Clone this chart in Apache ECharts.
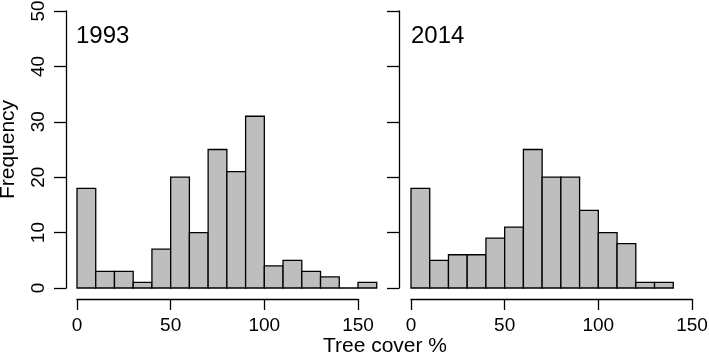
<!DOCTYPE html>
<html>
<head>
<meta charset="utf-8">
<script src="https://cdn.jsdelivr.net/npm/echarts@6/dist/echarts.min.js"></script>
<style>html,body{margin:0;padding:0;background:#fff}#c{width:709px;height:358px}</style>
</head>
<body>
<div id="c"></div>
<script>
// Data
const binWidth = 10;
const breaks1993 = [0,10,20,30,40,50,60,70,80,90,100,110,120,130,140,150];
const counts1993 = [18,3,3,1,7,20,10,25,21,31,4,5,3,2,0,1];
const breaks2014 = [0,10,20,30,40,50,60,70,80,90,100,110,120,130];
const counts2014 = [18,5,6,6,9,11,25,20,20,14,10,8,1,1];
const panelLabels = ['1993', '2014'];
const xTicks = [0, 50, 100, 150];
const yTicks = [0, 10, 20, 30, 40, 50];
const xTitle = 'Tree cover %';
const yTitle = 'Frequency';

const FONT = '"Liberation Sans", Arial, sans-serif';
const pxPerUnit = 281 / 150;
const yTop = 11, yBot = 288;

function histData(breaks, counts) {
  return breaks.map((b, i) => [b, b + binWidth, counts[i]]);
}

function renderBar(params, api) {
  const p0 = api.coord([api.value(0), 0]);
  const p1 = api.coord([api.value(1), api.value(2)]);
  return {
    type: 'rect',
    shape: { x: p0[0], y: p1[1], width: p1[0] - p0[0], height: p0[1] - p1[1] },
    style: { fill: '#bebebe', stroke: '#000', lineWidth: 1.3 }
  };
}

const chart = echarts.init(document.getElementById('c'), null, { renderer: 'canvas' });

const panels = [
  { left: 77, maxX: 160, yAxisX: 66, showLabels: true, breaks: breaks1993, counts: counts1993 },
  { left: 411, maxX: 140, yAxisX: 399, showLabels: false, breaks: breaks2014, counts: counts2014 }
];

const grid = [], xAxis = [], yAxis = [], series = [];
panels.forEach((p, i) => {
  // bars grid
  grid.push({ left: p.left, top: yTop, width: p.maxX * pxPerUnit, height: yBot - yTop, containLabel: false, outerBoundsMode: 'none' });
  xAxis.push({ gridIndex: grid.length - 1, type: 'value', min: 0, max: p.maxX, show: false });
  yAxis.push({
    gridIndex: grid.length - 1, type: 'value', min: 0, max: 50, interval: 10,
    offset: p.left - p.yAxisX,
    axisLine: { show: true, onZero: false, lineStyle: { color: '#000', width: 1.3 } },
    axisTick: { show: true, length: 12, inside: false, lineStyle: { color: '#000', width: 1.3 } },
    axisLabel: { show: p.showLabels, rotate: 90, margin: 18, fontSize: 19, fontFamily: FONT, color: '#000' },
    splitLine: { show: false },
    name: i === 0 ? yTitle : '', nameLocation: 'middle', nameGap: 47, nameRotate: 90,
    nameTextStyle: { fontSize: 21, fontFamily: FONT, color: '#000' }
  });
  series.push({
    type: 'custom', xAxisIndex: xAxis.length - 1, yAxisIndex: yAxis.length - 1,
    renderItem: renderBar, data: histData(p.breaks, p.counts), silent: true
  });
  // x-axis grid (0 to 150)
  grid.push({ left: p.left, top: yTop, width: 150 * pxPerUnit, height: 299 - yTop, containLabel: false, outerBoundsMode: 'none' });
  xAxis.push({
    gridIndex: grid.length - 1, type: 'value', min: 0, max: 150, interval: 50,
    axisLine: { show: true, onZero: false, lineStyle: { color: '#000', width: 1.3 } },
    axisTick: { show: true, length: 11, lineStyle: { color: '#000', width: 1.3 } },
    axisLabel: { margin: 17, fontSize: 19, fontFamily: FONT, color: '#000', showMinLabel: true, showMaxLabel: true },
    splitLine: { show: false }
  });
  yAxis.push({ gridIndex: grid.length - 1, type: 'value', min: 0, max: 50, show: false });
});

chart.setOption({
  animation: false,
  backgroundColor: '#fff',
  grid, xAxis, yAxis, series,
  graphic: [
    { type: 'text', left: 76, top: 24, style: { text: panelLabels[0], font: '24px ' + FONT, fill: '#000' } },
    { type: 'text', left: 411, top: 24, style: { text: panelLabels[1], font: '24px ' + FONT, fill: '#000' } },
    { type: 'text', x: 385, y: 357, style: { text: xTitle, font: '21px ' + FONT, fill: '#000', textAlign: 'center', textVerticalAlign: 'bottom' } }
  ]
});
</script>
</body>
</html>
